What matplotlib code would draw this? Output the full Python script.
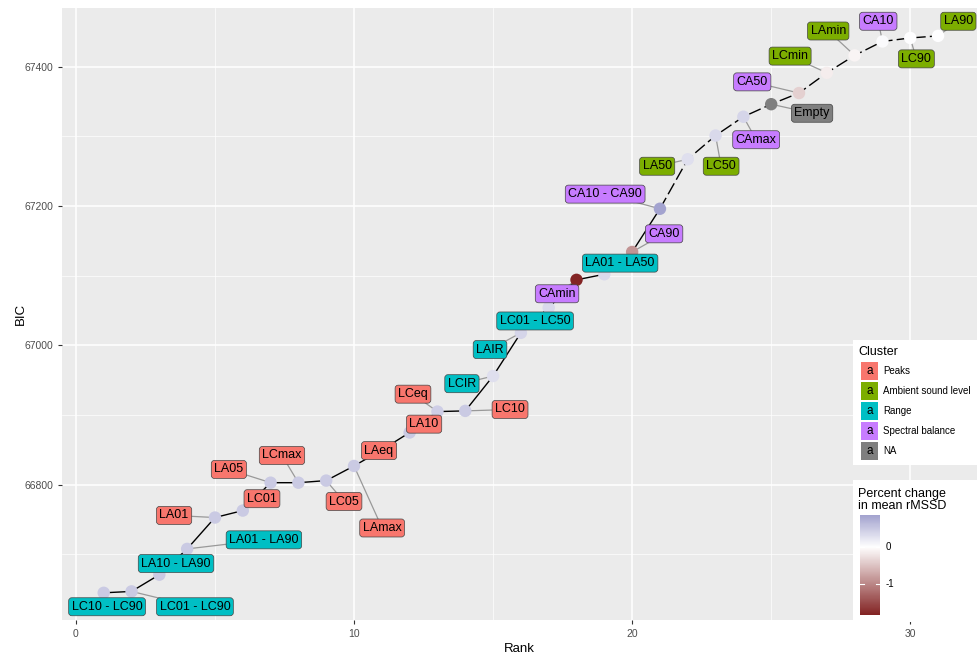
import numpy as np
import matplotlib
matplotlib.use("Agg")
import matplotlib.pyplot as plt
from matplotlib.colors import LinearSegmentedColormap, Normalize
from matplotlib.patches import Rectangle

plt.rcParams['font.family'] = ['Liberation Sans', 'DejaVu Sans']

# ---------------------------------------------------------------- data
rank = list(range(1, 32))
bic = [66645, 66647, 66671, 66708, 66753, 66763, 66803, 66803, 66806, 66827,
       66850, 66875, 66905, 66906, 66956, 67018, 67054, 67094, 67102, 67134,
       67196, 67267, 67301, 67328, 67346, 67362, 67391, 67416, 67436, 67441,
       67444]
names = ["LC10 - LC90", "LC01 - LC90", "LA10 - LA90", "LA01 - LA90", "LA01",
         "LC01", "LA05", "LCmax", "LC05", "LAmax", "LAeq", "LA10", "LCeq",
         "LC10", "LCIR", "LAIR", "LC01 - LC50", "CAmin", "LA01 - LA50", "CA90",
         "CA10 - CA90", "LA50", "LC50", "CAmax", "Empty", "CA50", "LCmin",
         "LAmin", "CA10", "LC90", "LA90"]
cluster = ["Range", "Range", "Range", "Range", "Peaks", "Peaks", "Peaks",
           "Peaks", "Peaks", "Peaks", "Peaks", "Peaks", "Peaks", "Peaks",
           "Range", "Range", "Range", "Spectral balance", "Range",
           "Spectral balance", "Spectral balance", "Ambient sound level",
           "Ambient sound level", "Spectral balance", "NA", "Spectral balance",
           "Ambient sound level", "Ambient sound level", "Spectral balance",
           "Ambient sound level", "Ambient sound level"]
pct_change = [0.5, 0.5, 0.5, 0.5, 0.5, 0.5, 0.5, 0.5, 0.5, 0.5,
              0.5, 0.5, 0.45, 0.5, 0.3, 0.4, 0.35, -1.84, 0.35, -0.9,
              0.86, 0.3, 0.35, 0.4, np.nan, -0.4, -0.15, -0.1, 0.05, 0.0,
              0.0]

# label placement (repelled positions, data units)
label_x = [1.12, 4.28, 3.60, 6.76, 3.53, 6.69, 5.50, 7.41, 9.64, 11.01,
           10.90, 12.52, 12.12, 15.61, 13.88, 14.89, 16.51, 17.30, 19.57, 21.15,
           19.03, 20.90, 23.20, 24.46, 26.47, 24.32, 25.68, 27.05, 28.85, 30.22,
           31.73]
label_y = [66625, 66625, 66687, 66721, 66756, 66780, 66822, 66842, 66776, 66738,
           66849, 66887, 66930, 66908, 66945, 66994, 67035, 67074, 67118, 67160,
           67217, 67257, 67257, 67295, 67333, 67378, 67415, 67451, 67465, 67411,
           67465]

cluster_levels = ["Peaks", "Ambient sound level", "Range", "Spectral balance", "NA"]
cluster_cols = {"Peaks": "#F8766D", "Ambient sound level": "#7CAE00",
                "Range": "#00BFC4", "Spectral balance": "#C77CFF", "NA": "#7F7F7F"}

# ---------------------------------------------------------------- colours
cmap = LinearSegmentedColormap.from_list("g2", ["#832424", "#FFFFFF", "#3A3A98"])
pc = np.array(pct_change, dtype=float)
lim = np.nanmax(np.abs(pc))
norm = Normalize(-lim, lim)
pt_cols = [cmap(norm(v)) if not np.isnan(v) else "#7F7F7F" for v in pc]

W, H = 977, 654
fig = plt.figure(figsize=(W / 100, H / 100), dpi=100)
ax = fig.add_axes([62 / W, (H - 620) / H, (W - 62) / W, (620 - 8) / H])
ax.set_facecolor("#EBEBEB")
for s in ax.spines.values():
    s.set_visible(False)

ax.set_xlim(-0.5, 32.4)
ax.set_ylim(66606, 67484)
ax.set_xticks([0, 10, 20, 30])
ax.set_xticks([5, 15, 25], minor=True)
ax.set_yticks([66800, 67000, 67200, 67400])
ax.set_yticks([66700, 66900, 67100, 67300], minor=True)
ax.grid(True, which="major", color="white", lw=1.1)
ax.grid(True, which="minor", color="white", lw=0.5)
ax.set_axisbelow(True)
ax.tick_params(which="major", length=3, color="#333333", labelcolor="#4D4D4D",
               labelsize=7.5, width=0.8)
ax.tick_params(which="minor", length=0)
ax.set_xlabel("Rank", fontsize=9.5, labelpad=3)
ax.set_ylabel("BIC", fontsize=9.5, labelpad=-2)

# line through ranks (broken look in the upper part)
ax.plot(rank[:21], bic[:21], color="black", lw=1.0, zorder=2)
ax.plot(rank[20:], bic[20:], color="black", lw=1.0, zorder=2, dashes=(9, 3))

# label segments
for i in range(len(rank)):
    ax.plot([rank[i], label_x[i]], [bic[i], label_y[i]], color="#999999",
            lw=0.9, zorder=1.5)

ax.scatter(rank, bic, s=80, c=pt_cols, edgecolors="none", zorder=3)

for i in range(len(rank)):
    fc = cluster_cols[cluster[i]]
    ax.text(label_x[i], label_y[i], names[i], fontsize=9, ha="center", va="center",
            color="black", zorder=4,
            bbox=dict(boxstyle="round,pad=0.24,rounding_size=0.25", fc=fc,
                      ec="#444444", lw=0.5))

# ---------------------------------------------------------------- cluster legend
def fx(px):
    return px / W


def fy(py):
    return (H - py) / H


fig.patches.append(Rectangle((fx(853), fy(465)), fx(977) - fx(853), fy(340) - fy(465),
                             transform=fig.transFigure, fc="white", ec="none", zorder=5))
fig.text(fx(858), fy(352), "Cluster", fontsize=9, va="center", ha="left", zorder=6)
for j, lev in enumerate(cluster_levels):
    yc = 371 + j * 20
    fig.patches.append(Rectangle((fx(861), fy(yc + 9)), fx(878) - fx(861), fy(yc - 9) - fy(yc + 9),
                                 transform=fig.transFigure, fc=cluster_cols[lev],
                                 ec="none", zorder=6))
    fig.text(fx(869.5), fy(yc), "a", fontsize=8.5, ha="center", va="center", zorder=7)
    fig.text(fx(883), fy(yc), lev, fontsize=7, ha="left", va="center", zorder=7)

# ---------------------------------------------------------------- colour legend
fig.patches.append(Rectangle((fx(853), fy(622)), fx(977) - fx(853), fy(480) - fy(622),
                             transform=fig.transFigure, fc="white", ec="none", zorder=5))
fig.text(fx(858), fy(500), "Percent change\nin mean rMSSD", fontsize=9, va="center",
         ha="left", linespacing=1.0, zorder=6)
cax = fig.add_axes([fx(860), fy(615), fx(880) - fx(860), fy(515) - fy(615)], zorder=6)
vmin, vmax = np.nanmin(pc), np.nanmax(pc)
grad = np.linspace(vmin, vmax, 200).reshape(-1, 1)
cax.imshow(grad, aspect="auto", origin="lower", cmap=cmap, norm=norm,
           extent=[0, 1, vmin, vmax])
cax.set_xlim(0, 1)
cax.set_ylim(vmin, vmax)
for s in cax.spines.values():
    s.set_visible(False)
cax.set_xticks([])
cax.set_yticks([])
for t in [0, -1]:
    cax.plot([0, 0.2], [t, t], color="white", lw=0.8)
    cax.plot([0.8, 1], [t, t], color="white", lw=0.8)
    cax.text(1.3, t, str(t), fontsize=7, va="center", ha="left",
             transform=cax.transData, clip_on=False)

fig.savefig("out.png", dpi=100)
